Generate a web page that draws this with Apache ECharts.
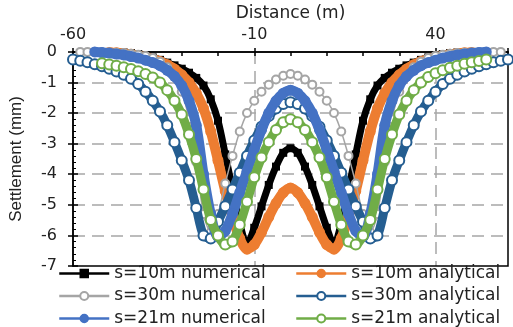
<!DOCTYPE html>
<html>
<head>
<meta charset="utf-8">
<script src="https://cdn.jsdelivr.net/npm/echarts@6/dist/echarts.min.js"></script>
<style>
  html, body { margin: 0; padding: 0; background: #fff; }
  #chart { width: 513px; height: 327px; }
</style>
</head>
<body>
<div id="chart"></div>
<script>
// Distance along the section (m)
const distance = [-60,-58,-56,-54,-52,-50,-48,-46,-44,-42,-40,-38,-36,-34,-32,-30,-28,-26,-24,-22,-20,-18,-16,-14,-12,-10,-8,-6,-4,-2,
  0,
  2,4,6,8,10,12,14,16,18,20,22,24,26,28,30,32,34,36,38,40,42,44,46,48,50,52,54,56,58,60];

// Surface settlement (mm) for each case
const s10Numerical = [null,null,null,null,null,0,-0.01,-0.02,-0.04,-0.07,-0.12,-0.18,-0.26,-0.35,-0.44,-0.55,-0.68,-0.85,-1.1,-1.55,-2.25,-3.35,-4.5,-5.6,-6.3,-5.75,-5.05,-4.35,-3.75,-3.3,
  -3.15,
  -3.3,-3.75,-4.35,-5.05,-5.75,-6.3,-5.6,-4.5,-3.35,-2.25,-1.55,-1.1,-0.85,-0.68,-0.55,-0.44,-0.35,-0.26,-0.18,-0.12,-0.07,-0.04,-0.02,-0.01,0,null,null,null,null,null];

const s10Analytical = [null,null,null,null,null,-0.02,-0.03,-0.05,-0.08,-0.12,-0.17,-0.23,-0.31,-0.42,-0.56,-0.75,-1.0,-1.35,-1.85,-2.6,-3.55,-4.55,-5.4,-6.1,-6.45,-6.3,-5.9,-5.4,-4.95,-4.6,
  -4.45,
  -4.6,-4.95,-5.4,-5.9,-6.3,-6.45,-6.1,-5.4,-4.55,-3.55,-2.6,-1.85,-1.35,-1.0,-0.75,-0.56,-0.42,-0.31,-0.23,-0.17,-0.12,-0.08,-0.05,-0.03,-0.02,null,null,null,null,null];

const s30Numerical = [null,0,0,0,-0.01,-0.02,-0.03,-0.04,-0.06,-0.09,-0.13,-0.2,-0.32,-0.5,-0.8,-1.3,-2.2,-3.6,-5.3,-5.9,-5.3,-4.3,-3.4,-2.6,-2.0,-1.6,-1.3,-1.07,-0.9,-0.78,
  -0.72,
  -0.78,-0.9,-1.07,-1.3,-1.6,-2.0,-2.6,-3.4,-4.3,-5.3,-5.9,-5.3,-3.6,-2.2,-1.3,-0.8,-0.5,-0.32,-0.2,-0.13,-0.09,-0.06,-0.04,-0.03,-0.02,-0.01,0,0,0,null];

const s30Analytical = [-0.25,-0.29,-0.34,-0.4,-0.47,-0.55,-0.64,-0.75,-0.88,-1.05,-1.3,-1.6,-1.95,-2.4,-2.95,-3.55,-4.2,-5.1,-6.0,-6.1,-5.55,-5.05,-4.5,-3.95,-3.4,-2.9,-2.45,-2.1,-1.85,-1.7,
  -1.65,
  -1.7,-1.85,-2.1,-2.45,-2.9,-3.4,-3.95,-4.5,-5.05,-5.55,-6.1,-6.0,-5.1,-4.2,-3.55,-2.95,-2.4,-1.95,-1.6,-1.3,-1.05,-0.88,-0.75,-0.64,-0.55,-0.47,-0.4,-0.34,-0.29,-0.25];

const s21Numerical = [null,null,null,0,-0.02,-0.04,-0.07,-0.1,-0.15,-0.2,-0.27,-0.35,-0.45,-0.6,-0.8,-1.1,-1.6,-2.4,-4.0,-5.3,-6.05,-5.85,-5.3,-4.6,-3.9,-3.2,-2.55,-2.0,-1.6,-1.35,
  -1.25,
  -1.35,-1.6,-2.0,-2.55,-3.2,-3.9,-4.6,-5.3,-5.85,-6.05,-5.3,-4.0,-2.4,-1.6,-1.1,-0.8,-0.6,-0.45,-0.35,-0.27,-0.2,-0.15,-0.1,-0.07,-0.04,-0.02,0,null,null,null];

const s21Analytical = [null,null,null,null,-0.37,-0.41,-0.45,-0.5,-0.56,-0.63,-0.72,-0.84,-1.0,-1.25,-1.6,-2.05,-2.7,-3.5,-4.5,-5.5,-6.0,-6.3,-6.2,-5.65,-4.9,-4.1,-3.45,-2.95,-2.55,-2.3,
  -2.2,
  -2.3,-2.55,-2.95,-3.45,-4.1,-4.9,-5.65,-6.2,-6.3,-6.0,-5.5,-4.5,-3.5,-2.7,-2.05,-1.6,-1.25,-1.0,-0.82,-0.7,-0.6,-0.52,-0.45,-0.39,-0.34,-0.3,-0.25,null,null,null];

// Axis ticks
const xMin = -60, xMax = 60, xLabelStep = 50, xTickStep = 10;
const yMin = -7, yMax = 0, yStep = 1;

// Legend entries: [name, column, row]
const legendItems = [
  ['s=10m numerical', 0, 0], ['s=10m analytical', 1, 0],
  ['s=30m numerical', 0, 1], ['s=30m analytical', 1, 1],
  ['s=21m numerical', 0, 2], ['s=21m analytical', 1, 2]
];

const pairs = (ys) => distance.map((x, i) => [x, ys[i]]);

const chart = echarts.init(document.getElementById('chart'), null, { renderer: 'canvas' });

const labelFont = 'DejaVu Sans';
const gridDash = { color: '#A6A6A6', width: 1.5, type: [12, 7] };

function bandSeries(name, ys, opts, z) {
  return {
    name: name,
    type: 'line',
    xAxisIndex: 0,
    yAxisIndex: 0,
    data: pairs(ys),
    smooth: 0.3,
    clip: false,
    z: z,
    symbol: opts.symbol,
    symbolSize: opts.size,
    showAllSymbol: true,
    color: opts.color,
    itemStyle: { color: opts.color, borderColor: opts.color, borderWidth: opts.border || 0 },
    lineStyle: { color: opts.color, width: opts.line },
    emphasis: { disabled: true },
    animation: false
  };
}

const legends = legendItems.map(([name, col, row]) => ({
  orient: 'horizontal',
  left: col === 0 ? 58 : 295,
  top: 265 + row * 22.5,
  itemWidth: 50, itemHeight: 10, itemGap: 0,
  padding: 0,
  textStyle: { fontFamily: labelFont, fontSize: 17, color: '#222' },
  lineStyle: { width: 2.5 },
  itemStyle: { borderWidth: 1.5 },
  data: [name]
}));

const option = {
  animation: false,
  backgroundColor: '#fff',
  grid: {
    left: 68, right: 5, top: 51, bottom: 61,
    show: true, borderColor: '#000', borderWidth: 1.5, backgroundColor: 'transparent', z: 1
  },
  xAxis: [
    {
      type: 'value', position: 'top', min: xMin, max: xMax, interval: xTickStep,
      name: 'Distance (m)', nameLocation: 'middle', nameGap: 25,
      nameTextStyle: { fontFamily: labelFont, fontSize: 17, color: '#222' },
      axisLine: { show: true, onZero: false, lineStyle: { color: '#000', width: 1.5 } },
      axisTick: { show: true, inside: true, length: 4, lineStyle: { color: '#000', width: 1.5 } },
      axisLabel: {
        show: true, margin: 9, fontFamily: labelFont, fontSize: 16, color: '#222',
        formatter: (v) => ((v - xMin) % xLabelStep === 0 && v !== xMax ? String(v) : '')
      },
      splitLine: { show: false }
    },
    {
      type: 'value', position: 'top', min: xMin, max: xMax, interval: xLabelStep,
      axisLine: { show: false, onZero: false },
      axisTick: { show: true, inside: false, length: 4, lineStyle: { color: '#000', width: 1.5 } },
      axisLabel: { show: false },
      splitLine: { show: true, showMinLine: false, showMaxLine: false, lineStyle: gridDash }
    }
  ],
  yAxis: [
    {
      type: 'value', position: 'left', min: yMin, max: yMax, interval: yStep,
      name: 'Settlement (mm)', nameLocation: 'middle', nameGap: 48, nameRotate: 90,
      nameTextStyle: { fontFamily: 'Liberation Sans', fontSize: 17, color: '#222' },
      axisLine: { show: true, onZero: false, lineStyle: { color: '#000', width: 1.5 } },
      axisTick: { show: true, inside: false, length: 5, lineStyle: { color: '#000', width: 1.5 } },
      axisLabel: { margin: 16, fontFamily: labelFont, fontSize: 16, color: '#222' },
      splitLine: { show: true, showMinLine: false, showMaxLine: false, lineStyle: gridDash }
    },
    {
      type: 'value', position: 'left', min: yMin, max: yMax, interval: yStep,
      axisLine: { show: false, onZero: false },
      axisTick: { show: true, inside: true, length: 5, lineStyle: { color: '#000', width: 1.5 } },
      minorTick: { show: true, splitNumber: 5, length: 3, lineStyle: { color: '#000', width: 1 } },
      axisLabel: { show: false },
      splitLine: { show: false }
    }
  ],
  legend: legends,
  series: [
    bandSeries('s=10m numerical', s10Numerical, { symbol: 'rect', size: 8, color: '#000000', line: 7 }, 3),
    bandSeries('s=10m analytical', s10Analytical, { symbol: 'circle', size: 11, color: '#ED7D31', line: 10 }, 4),
    bandSeries('s=30m numerical', s30Numerical, { symbol: 'emptyCircle', size: 8, color: '#A5A5A5', line: 1.5, border: 1.5 }, 5),
    bandSeries('s=30m analytical', s30Analytical, { symbol: 'emptyCircle', size: 10, color: '#255E91', line: 9, border: 2 }, 6),
    bandSeries('s=21m numerical', s21Numerical, { symbol: 'circle', size: 11, color: '#4472C4', line: 10 }, 7),
    bandSeries('s=21m analytical', s21Analytical, { symbol: 'emptyCircle', size: 10, color: '#70AD47', line: 9, border: 2 }, 8)
  ]
};

chart.setOption(option);
</script>
</body>
</html>
